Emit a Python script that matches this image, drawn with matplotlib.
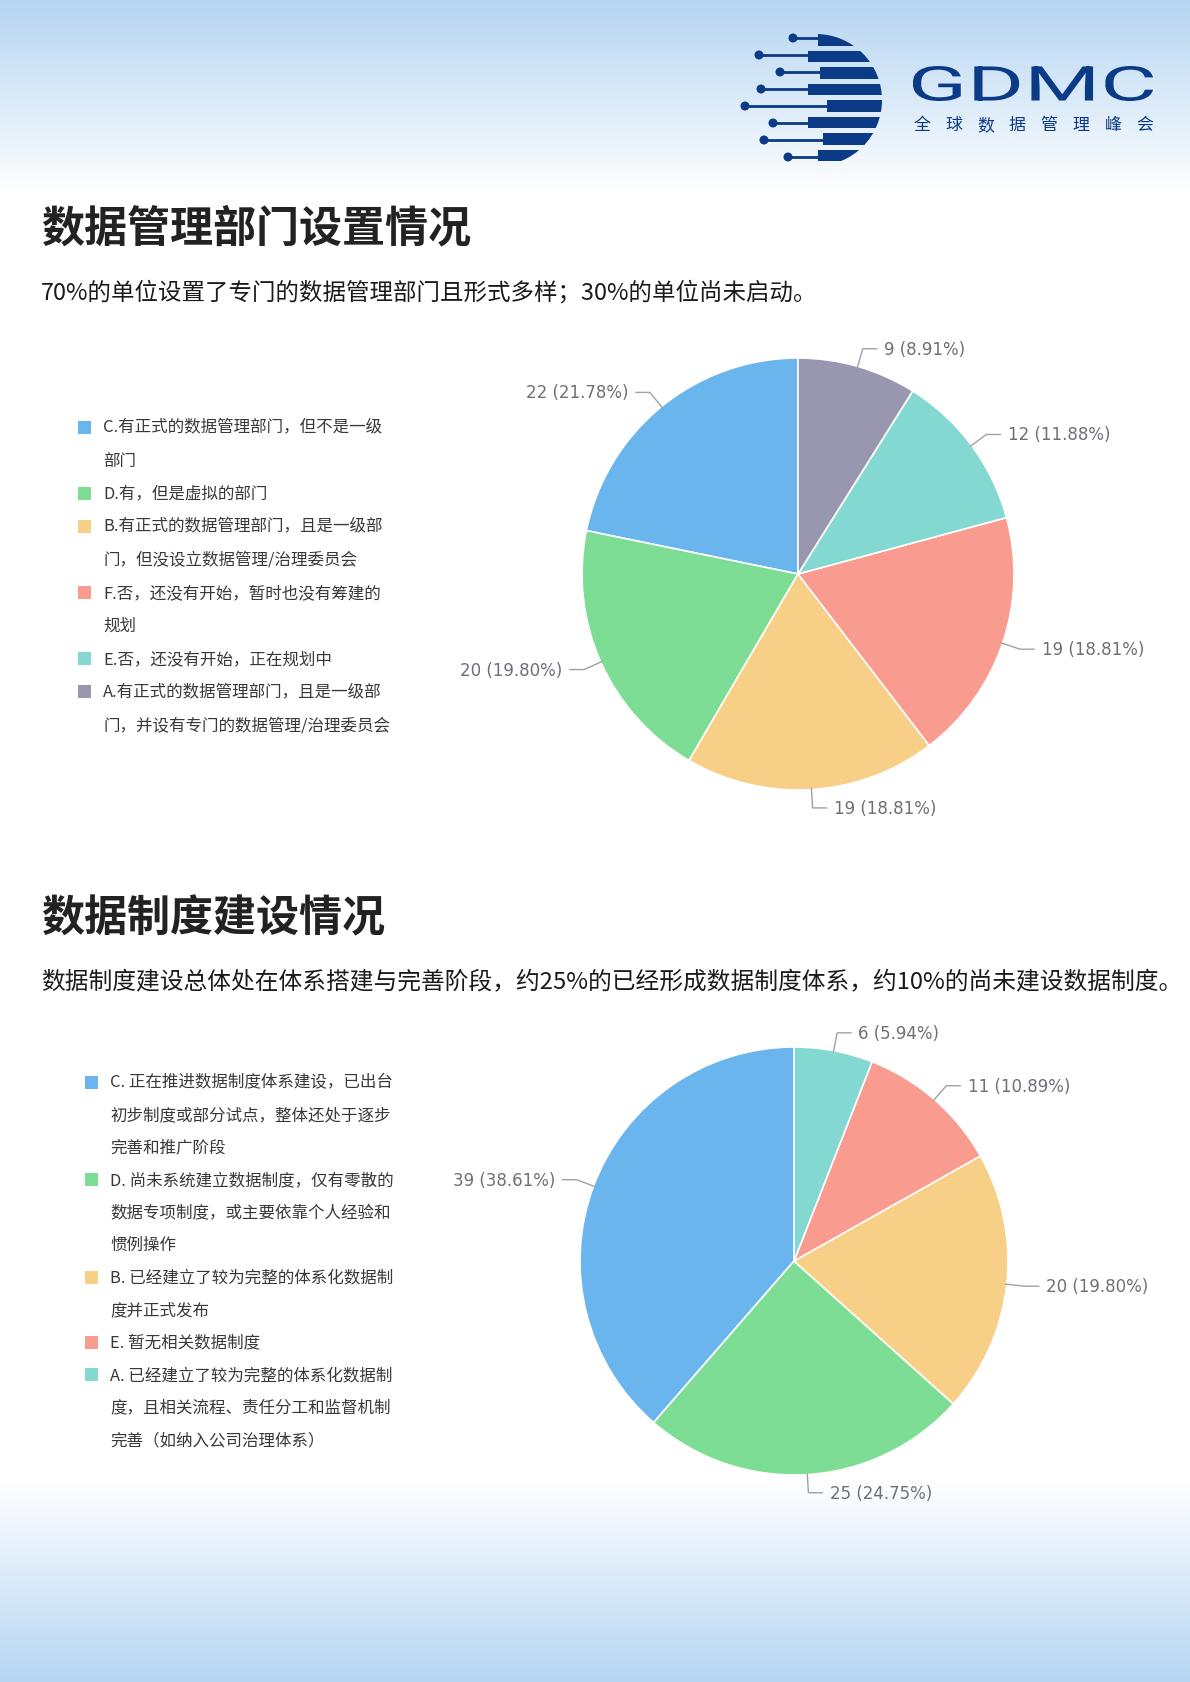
import numpy as np
import matplotlib
matplotlib.use("Agg")
import matplotlib.pyplot as plt
from matplotlib.patches import Circle, Rectangle, PathPatch
from matplotlib.textpath import TextPath
from matplotlib.font_manager import FontProperties
from matplotlib.transforms import Affine2D

plt.rcParams['font.family'] = ['Noto Sans CJK SC', 'DejaVu Sans']

# ---- data ----
dept_names = ["C.有正式的数据管理部门，但不是一级\n部门",
              "D.有，但是虚拟的部门",
              "B.有正式的数据管理部门，且是一级部\n门，但没设立数据管理/治理委员会",
              "F.否，还没有开始，暂时也没有筹建的\n规划",
              "E.否，还没有开始，正在规划中",
              "A.有正式的数据管理部门，且是一级部\n门，并设有专门的数据管理/治理委员会"]
dept_values = [22, 20, 19, 19, 12, 9]
dept_colors = ["#6bb5ee", "#7edd95", "#f8cf86", "#f99b8f", "#84d8d2", "#9997b0"]

rule_names = ["C. 正在推进数据制度体系建设，已出台\n初步制度或部分试点，整体还处于逐步\n完善和推广阶段",
              "D. 尚未系统建立数据制度，仅有零散的\n数据专项制度，或主要依靠个人经验和\n惯例操作",
              "B. 已经建立了较为完整的体系化数据制\n度并正式发布",
              "E. 暂无相关数据制度",
              "A. 已经建立了较为完整的体系化数据制\n度，且相关流程、责任分工和监督机制\n完善（如纳入公司治理体系）"]
rule_values = [39, 25, 20, 11, 6]
rule_colors = ["#6bb5ee", "#7edd95", "#f8cf86", "#f99b8f", "#84d8d2"]

title1 = "数据管理部门设置情况"
sub1 = "70%的单位设置了专门的数据管理部门且形式多样；30%的单位尚未启动。"
title2 = "数据制度建设情况"
sub2 = "数据制度建设总体处在体系搭建与完善阶段，约25%的已经形成数据制度体系，约10%的尚未建设数据制度。"

W, H = 1190, 1683
NAVY = "#0b3a86"

fig = plt.figure(figsize=(W / 100, H / 100), dpi=100)
bg = fig.add_axes([0, 0, 1, 1])
bg.set_xlim(0, W)
bg.set_ylim(H, 0)
bg.set_axis_off()

# background gradient
top = np.array([0xb5, 0xd5, 0xf2]) / 255.0
ys = np.arange(H)
t = np.zeros(H)
t[ys < 195] = 1 - ys[ys < 195] / 195.0
m = ys > 1480
t[m] = (ys[m] - 1480) / (H - 1480.0)
img = (1 - t[:, None]) * 1.0 + t[:, None] * top[None, :]
bg.imshow(img[:, None, :], extent=(0, W, H, 0), aspect='auto', zorder=0)

# ---- logo ----
cx, cy, cr = 816, 101, 66
circ = Circle((cx, cy), cr, transform=bg.transData, facecolor='none', edgecolor='none')
bg.add_patch(circ)
line_y = [39, 56, 73, 90, 107, 124, 141, 158]
dot_x = [793, 759, 780, 761, 745, 773, 764, 788]
step_x = [818, 808, 820, 808, 827, 808, 823, 818]
for i in range(8):
    y0 = 35 + 16.5 * i
    band = Rectangle((step_x[i], y0), 120, 11.5, facecolor=NAVY, edgecolor='none', zorder=3)
    bg.add_patch(band)
    band.set_clip_path(circ)
    bg.plot([dot_x[i], step_x[i] + 2], [line_y[i], line_y[i]], color=NAVY, lw=2.0, zorder=3,
            solid_capstyle='butt')
    bg.add_patch(Circle((dot_x[i], line_y[i]), 4.5, facecolor=NAVY, edgecolor='none', zorder=3))

tp = TextPath((0, 0), "GDMC", size=1, prop=FontProperties(family=['Roboto', 'DejaVu Sans']))
bb = tp.get_extents()
tr = Affine2D().translate(-bb.x0, -bb.y0).scale(240 / bb.width, -35 / bb.height).translate(913, 102)
bg.add_patch(PathPatch(tr.transform_path(tp), facecolor=NAVY, edgecolor='none', zorder=3))
for i, ch in enumerate("全球数据管理峰会"):
    bg.text(921.5 + i * 31.9, 125, ch, fontsize=12.2, color=NAVY, ha='center', va='center', zorder=3)

# ---- titles ----
bg.text(41, 228, title1, fontsize=31, fontweight='bold', color='#222222', va='center', ha='left')
bg.text(41, 293, sub1, fontsize=16.9, color='#1a1a1a', va='center', ha='left')
bg.text(41, 918, title2, fontsize=31, fontweight='bold', color='#222222', va='center', ha='left')
bg.text(41, 983, sub2, fontsize=17.1, color='#1a1a1a', va='center', ha='left')


def draw_legend(names, colors, sq_x, txt_x, y_first, step):
    row = 0
    for name, col in zip(names, colors):
        y = y_first + row * step
        bg.add_patch(Rectangle((sq_x, y - 6.5), 13, 13, facecolor=col, edgecolor='none', zorder=3))
        for ln in name.split("\n"):
            bg.text(txt_x, y_first + row * step, ln, fontsize=11.9, color='#383838',
                    va='center', ha='left', zorder=3)
            row += 1


draw_legend(dept_names, dept_colors, 78, 103, 428, 33.1)
draw_legend(rule_names, rule_colors, 85, 110, 1083, 32.5)


def draw_pie(values, colors, cxp, cyp, r):
    ax = fig.add_axes([(cxp - r) / W, 1 - (cyp + r) / H, 2 * r / W, 2 * r / H])
    total = float(sum(values))
    wedges, _ = ax.pie(values, colors=colors, startangle=90, counterclock=True, radius=1,
                       wedgeprops=dict(edgecolor='white', linewidth=1.2))
    ax.set_xlim(-1, 1)
    ax.set_ylim(-1, 1)
    ax.set_axis_off()
    for w, v in zip(wedges, values):
        a = np.deg2rad((w.theta1 + w.theta2) / 2)
        c, s = np.cos(a), np.sin(a)
        sgn = 1 if c >= 0 else -1
        x1, y1 = 1.085 * c, 1.085 * s
        x2 = x1 + sgn * 0.065
        ax.plot([c * 0.995, x1, x2], [s * 0.995, y1, y1], color='#a0a0a8', lw=1, clip_on=False)
        ax.text(x2 + sgn * 0.035, y1, "%d (%.2f%%)" % (v, v / total * 100), fontsize=12,
                family='DejaVu Sans', color='#6e7079', ha='left' if sgn > 0 else 'right',
                va='center', clip_on=False)


draw_pie(dept_values, dept_colors, 798, 575, 216)
draw_pie(rule_values, rule_colors, 794, 1262, 214)

fig.savefig("out.png", dpi=100)
